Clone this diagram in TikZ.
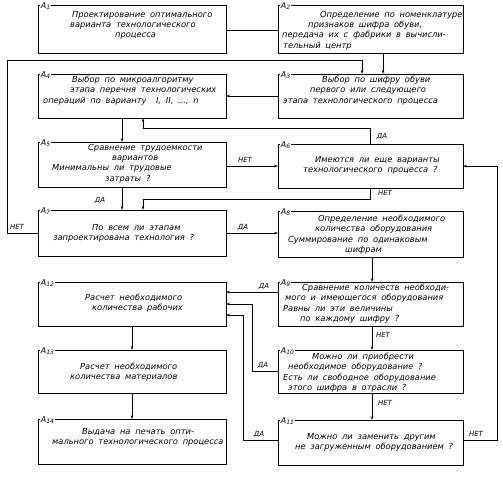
\documentclass[tikz,border=0pt]{standalone}
\usepackage{fontspec}
\setmainfont{DejaVu Sans}[WordSpace=1.8]
\usetikzlibrary{arrows.meta}
\newcommand{\myind}[1]{\hspace*{#1pt}}
\newcommand{\fl}{\rule{0pt}{6pt}}
\begin{document}
\begin{tikzpicture}[x=1pt,y=-1pt,
  box/.style={draw, line width=0.9pt, rectangle, inner sep=0pt, outer sep=0pt},
  lbox/.style={box, minimum width=188pt},
  rbox/.style={box, minimum width=185pt},
  txt/.style={anchor=north west, inner sep=0pt, align=left, font=\itshape\fontsize{8.3}{10.3}\selectfont},
  lab/.style={anchor=west, fill=white, inner sep=0.6pt, font=\itshape\fontsize{8}{9}\selectfont},
  yn/.style={font=\itshape\fontsize{7}{8}\selectfont, inner sep=0pt},
  con/.style={line width=0.6pt},
  arr/.style={con, -{Stealth[length=4pt,width=2.6pt]}}]
\useasboundingbox (0,0) rectangle (503,481);
% boxes
\node[lbox, minimum height=48pt] (A1) at (132,29) {};
\node[rbox, minimum height=48pt] (A2) at (370.5,29) {};
\node[lbox, minimum height=44pt] (A4) at (132,96) {};
\node[rbox, minimum height=44pt] (A3) at (370.5,96) {};
\node[lbox, minimum height=45pt] (A5) at (132,164.5) {};
\node[rbox, minimum height=44pt] (A6) at (370.5,166) {};
\node[lbox, minimum height=46pt] (A7) at (132,233) {};
\node[rbox, minimum height=46pt] (A8) at (370.5,234) {};
\node[lbox, minimum height=44pt] (A12) at (132,304) {};
\node[rbox, minimum height=44pt] (A9) at (370.5,304) {};
\node[lbox, minimum height=43pt] (A13) at (132,371.5) {};
\node[rbox, minimum height=43pt] (A10) at (370.5,371.5) {};
\node[lbox, minimum height=45pt] (A14) at (132,441.5) {};
\node[rbox, minimum height=45pt] (A11) at (370.5,442.5) {};
% labels
\node[lab] (L1) at (40,6) {A\textsubscript{1}};
\node[lab] (L2) at (280,6) {A\textsubscript{2}};
\node[lab] (L4) at (40,75) {A\textsubscript{4}};
\node[lab] (L3) at (280,75) {A\textsubscript{3}};
\node[lab] (L5) at (40,143) {A\textsubscript{5}};
\node[lab] (L6) at (280,145) {A\textsubscript{6}};
\node[lab] (L7) at (40,211) {A\textsubscript{7}};
\node[lab] (L8) at (280,212) {A\textsubscript{8}};
\node[lab] (L12) at (40,283) {A\textsubscript{12}};
\node[lab] (L9) at (280,283) {A\textsubscript{9}};
\node[lab] (L13) at (40,351) {A\textsubscript{13}};
\node[lab] (L10) at (280,351) {A\textsubscript{10}};
\node[lab] (L14) at (40,420) {A\textsubscript{14}};
\node[lab] (L11) at (280,421) {A\textsubscript{11}};
% texts
\node[txt] (T1) at (41,11) {\fl\myind{31}Проектирование оптимального\\\myind{29}варианта технологического\\\myind{74}процесса};
\node[txt] (T2) at (281,11) {\fl\myind{39}Определение по номенклатуре\\\myind{27}признаков шифра обуви,\\\myind{1}передача их с фабрики в вычисли-\\\myind{2}тельный центр};
\node[txt] (T4) at (41,76) {\fl\myind{31}Выбор по микроалгоритму\\\myind{29}этапа перечня технологических\\\myind{2}операций по варианту \ I, II, ..., n};
\node[txt] (T3) at (281,76) {\fl\myind{41}Выбор по шифру обуви\\\myind{29}первого или следующего\\\myind{2}этапа технологического процесса};
\node[txt] (T5) at (41,144) {\fl\myind{47}Сравнение трудоемкости\\\myind{71}вариантов\\\myind{11}Минимальны ли трудовые\\\myind{64}затраты ?};
\node[txt] (T6) at (281,156) {\fl\myind{34}Имеются ли еще варианты\\\myind{22}технологического процесса ?};
\node[txt] (T7) at (41,224) {\fl\myind{51}По всем ли этапам\\\myind{12}запроектирована технология ?};
\node[txt] (T8) at (281,215) {\fl\myind{37}Определение необходимого\\\myind{34}количества оборудования\\\myind{7}Суммирование по одинаковым\\\myind{64}шифрам};
\node[txt] (T9) at (281,284) {\fl\myind{21}Сравнение количеств необходи-\\\myind{4}мого и имеющегося оборудования\\\myind{2}Равны ли эти величины\\\myind{19}по каждому шифру ?};
\node[txt] (T10) at (281,353) {\fl\myind{31}Можно ли приобрести\\\myind{7}необходимое оборудование ?\\\myind{2}Есть ли свободное оборудование\\\myind{7}этого шифра в отрасли ?};
\node[txt] (T11) at (281,433) {\fl\myind{26}Можно ли заменить другим\\\myind{14}не загруженным оборудованием ?};
\node[txt] (T12) at (41,294) {\fl\myind{44}Расчет необходимого\\\myind{51}количества рабочих};
\node[txt] (T13) at (41,363) {\fl\myind{39}Расчет необходимого\\\myind{29}количества материалов};
\node[txt] (T14) at (41,428) {\fl\myind{41}Выдача на печать опти-\\\myind{11}мального технологического процесса};
% connectors
\draw[con] (A1.east |- 0,30) -- (A2.west |- 0,30);
\draw[arr] (A2.south -| 383,0) -- (A3.north -| 383,0);
\draw[arr] (A3.west) -- (A4.east);
\draw[arr] (A4.south -| 122,0) -- (A5.north -| 122,0);
\draw[arr] (A6.north -| 370,0) |- (143,128) -- (A4.south -| 143,0);
\draw[arr] (A5.east |- 0,166) -- (A6.west |- 0,166);
\draw[arr] (A6.south -| 370,0) |- (143,199) -- (A7.north -| 143,0);
\draw[arr] (A5.south -| 122,0) -- (A7.north -| 122,0);
\draw[arr] (A7.west) -| (7,60) -| (A3.north -| 362,0);
\draw[arr] (A7.east) -- (A8.west |- A7.east);
\draw[arr] (A11.east |- 0,440) -| (497,166) -- (A6.east |- 0,166);
\draw[arr] (A8.south -| 372,0) -- (A9.north -| 372,0);
\draw[arr] (A9.west |- 0,292) -- (A12.east |- 0,292);
\draw[arr] (A9.south -| 372,0) -- (A10.north -| 372,0);
\draw[arr] (A10.west |- 0,371) -| (252,304) -- (A12.east |- 0,304);
\draw[arr] (A10.south -| 372,0) -- (A11.north -| 372,0);
\draw[arr] (A11.west |- 0,440) -| (243,315) -- (A12.east |- 0,315);
\draw[arr] (A12.south) -- (A13.north);
\draw[arr] (A13.south) -- (A14.north);
% yes/no labels
\node[yn] (n1) at (245,160) {НЕТ};
\node[yn] (n2) at (382,136) {ДА};
\node[yn] (n3) at (385,193) {НЕТ};
\node[yn] (n4) at (100,200) {ДА};
\node[yn] (n5) at (17,227) {НЕТ};
\node[yn] (n6) at (243,227) {ДА};
\node[yn] (n7) at (264,286) {ДА};
\node[yn] (n8) at (383,335) {НЕТ};
\node[yn] (n9) at (263,365) {ДА};
\node[yn] (n10) at (385,403) {НЕТ};
\node[yn] (n11) at (259,434) {ДА};
\node[yn] (n12) at (476,434) {НЕТ};
\end{tikzpicture}
\end{document}
